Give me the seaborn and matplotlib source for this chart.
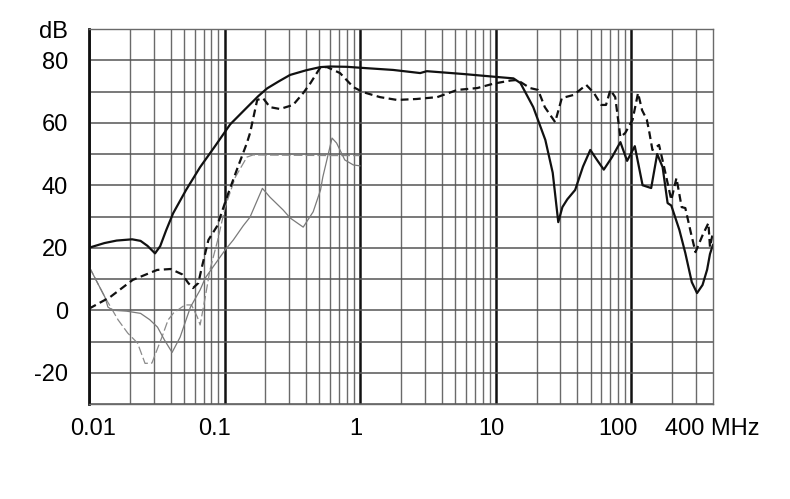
import numpy as np
import pandas as pd
import matplotlib
matplotlib.use("Agg")
import matplotlib.pyplot as plt
import seaborn as sns
from matplotlib.transforms import ScaledTranslation

# ---- data ----
solid_freq = [0.01, 0.013, 0.016, 0.0208, 0.024, 0.027, 0.0307, 0.0335, 0.037, 0.0417,
              0.052, 0.066, 0.085, 0.11, 0.147, 0.177, 0.206, 0.25, 0.304, 0.4, 0.507,
              0.6, 0.8, 1.0, 1.75, 2.77, 3.1, 5.76, 10.5, 13.5, 15.2, 18.9, 23.2, 26.3,
              28.9, 31, 33.7, 38.5, 44, 49.8, 56, 62.6, 72, 83, 93, 106, 121, 140, 155,
              170, 185, 197, 226, 250, 279, 305, 335, 362, 380, 400]
solid_db = [20, 21.5, 22.3, 22.7, 22.2, 20.6, 18.2, 20.5, 25.5, 31,
            38.5, 45.8, 52.5, 59.5, 65, 68.5, 71, 73.2, 75.3, 76.8, 77.8,
            78, 77.9, 77.6, 76.9, 75.9, 76.5, 75.6, 74.6, 74.2, 72.7, 65, 54.5, 44,
            28.2, 33, 35.5, 38.5, 46, 51.3, 48, 45, 49, 53.8, 47.8, 52.5, 40, 39.1, 50,
            45.8, 34.3, 33.5, 25.7, 18.3, 9, 5.5, 8.1, 13, 18, 21]

dashed_freq = [0.01, 0.0143, 0.021, 0.0318, 0.04, 0.0486, 0.054, 0.0585, 0.064, 0.068,
               0.076, 0.088, 0.104, 0.123, 0.137, 0.146, 0.154, 0.174, 0.192, 0.216,
               0.256, 0.32, 0.38, 0.43, 0.51, 0.57, 0.71, 0.89, 1.05, 1.4, 1.87, 2.6,
               3.7, 5.2, 7.3, 9.6, 12.8, 14.4, 17.9, 20.5, 23, 27.4, 30.7, 37.5, 46.5,
               53, 60, 65, 70, 76, 83, 90, 102, 112, 120, 130, 136, 143, 160, 175, 197,
               215, 235, 250, 275, 297, 335, 370, 380, 400]
dashed_db = [0.5, 4.2, 9.7, 12.9, 13.2, 11.5, 8.7, 7.1, 8.7, 13.8,
             22.5, 26.9, 36.2, 44.9, 50.3, 53.5, 56.7, 67.3, 67.9, 65,
             64.4, 65.7, 69.5, 72.7, 77.8, 77.8, 75.9, 71.4, 69.8, 68.2, 67.3, 67.6,
             68.2, 70.5, 71.1, 72.5, 73.5, 73.7, 71.1, 70.5, 65, 60.2, 67.9, 68.9, 72.1,
             69.5, 65.7, 65.7, 70.5, 68.2, 55.4, 56.7, 60.9, 69.5, 64, 61, 56.7, 51.3,
             52.9, 45.5, 35.3, 42.3, 33, 32.7, 24.7, 18.6, 24, 27.9, 20.2, 25]

gray_freq = [0.01, 0.0131, 0.0138, 0.015, 0.019, 0.024, 0.028, 0.032, 0.036, 0.041,
             0.047, 0.049, 0.056, 0.066, 0.072, 0.082, 0.101, 0.116, 0.137, 0.154,
             0.19, 0.216, 0.27, 0.305, 0.38, 0.45, 0.51, 0.53, 0.62, 0.67, 0.77,
             0.89, 1.0]
gray_db = [14, 4.2, 1.0, 0.0, -0.3, -1.0, -3, -5.4, -9.5, -13.5,
           -8.6, -6.3, 1, 6.5, 10.3, 13.8, 19.3, 22.5, 27, 29.8,
           39, 36.2, 32.1, 29.5, 26.6, 31.5, 38.5, 42.6, 55.1, 53.5, 48.1,
           46.5, 46.2]

graydash_freq = [0.01, 0.0131, 0.0164, 0.0193, 0.0228, 0.0259, 0.0291, 0.0345, 0.0383,
                 0.042, 0.051, 0.057, 0.063, 0.066, 0.072, 0.078, 0.089, 0.101, 0.12,
                 0.146, 0.162, 0.3, 0.6, 1.0]
graydash_db = [14, 4.2, -3.1, -7.3, -10.5, -17, -16.9, -8.6, -3.1,
               -0.9, 1.7, 1.7, -2.2, -4.7, 4.2, 12.9, 22.5, 33, 42.6,
               49, 49.7, 49.6, 49.5, 49.5]

y_ticks = [-30, -20, -10, 0, 10, 20, 30, 40, 50, 60, 70, 80, 90]
y_labels = ["", "-20", "", "0", "", "20", "", "40", "", "60", "", "80", "dB"]
x_ticks = [0.01, 0.1, 1, 10, 100, 400]
x_labels = ["0.01", "0.1", "1", "10", "100", "400 MHz"]

# ---- style ----
sns.set_style("white")
plt.rcParams['font.family'] = ['Liberation Sans', 'DejaVu Sans']

fig = plt.figure(figsize=(7.9, 4.99), dpi=100)
ax = fig.add_axes([89 / 790, 1 - 404 / 499, (713 - 89) / 790, (404 - 29) / 499])

ax.set_xscale('log')
ax.set_xlim(0.01, 400)
ax.set_ylim(-30, 90)

# grid
minor = [m * 10.0 ** e for e in range(-2, 2) for m in range(2, 10)] + [200, 300]
ax.set_xticks(minor, minor=True)
ax.set_xticks(x_ticks)
ax.set_xticklabels(x_labels)
ax.set_yticks(y_ticks)
ax.set_yticklabels(y_labels)
ax.tick_params(axis='both', which='both', length=0, labelsize=17, colors='black')
ax.tick_params(axis='y', pad=15)
ax.tick_params(axis='x', pad=10)

ax.grid(which='minor', axis='x', color='#6a6a6a', lw=1.0)
ax.grid(which='major', axis='x', color='#111111', lw=1.8)
ax.grid(which='major', axis='y', color='#555555', lw=1.1)
for gl, v in zip(ax.get_xgridlines(), x_ticks):
    if v == 400:
        gl.set_visible(False)

for side in ['top', 'right', 'bottom']:
    ax.spines[side].set_color('#6a6a6a')
    ax.spines[side].set_linewidth(1.0)
ax.spines['left'].set_color('#111111')
ax.spines['left'].set_linewidth(2.0)

# curves
sns.lineplot(x=graydash_freq, y=graydash_db, ax=ax, color='#8a8a8a', lw=0.9,
             linestyle=(0, (7, 2.5)), sort=False, estimator=None)
sns.lineplot(x=gray_freq, y=gray_db, ax=ax, color='#7a7a7a', lw=0.9,
             sort=False, estimator=None)
sns.lineplot(x=dashed_freq, y=dashed_db, ax=ax, color='#111111', lw=1.6,
             linestyle=(0, (3.5, 2)), sort=False, estimator=None)
sns.lineplot(x=solid_freq, y=solid_db, ax=ax, color='#111111', lw=1.6,
             sort=False, estimator=None)
ax.set_xlim(0.01, 400)
ax.set_ylim(-30, 90)
ax.set_xlabel("")
ax.set_ylabel("")

# small horizontal offsets of x tick labels as in the reference
offsets = [4, -10, -4, -4, -13, -1]
for lab, dx in zip(ax.get_xticklabels(), offsets):
    lab.set_transform(lab.get_transform() + ScaledTranslation(dx / 100, 0, fig.dpi_scale_trans))

fig.savefig("out.png", dpi=100)
